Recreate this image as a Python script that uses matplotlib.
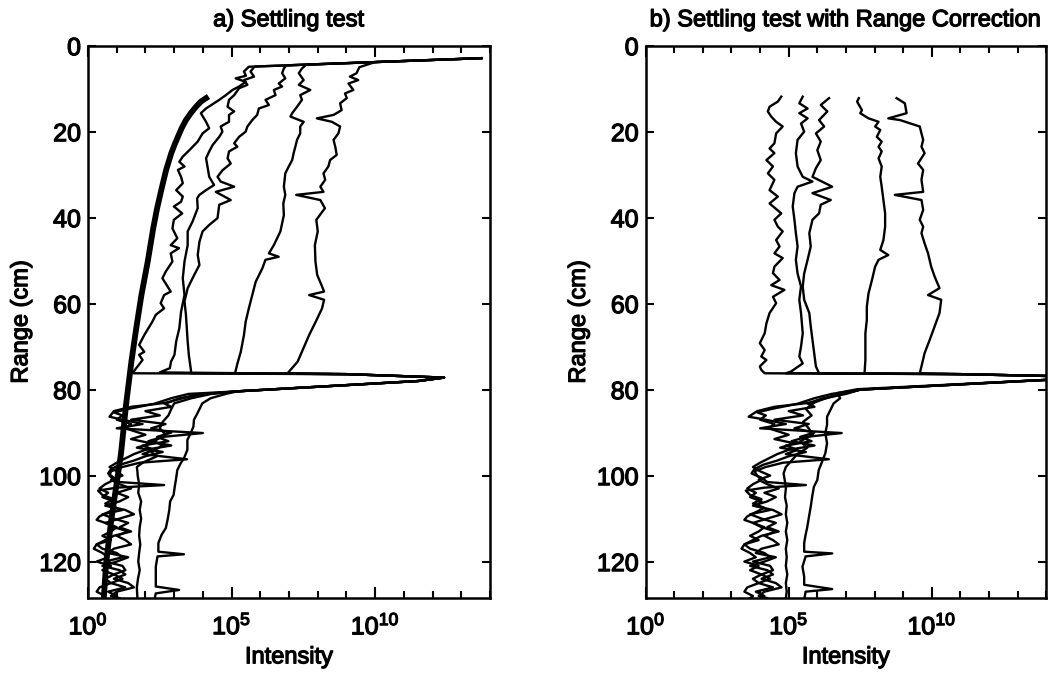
import numpy as np
import matplotlib
matplotlib.use("Agg")
import matplotlib.pyplot as plt
from matplotlib.ticker import NullFormatter
from matplotlib import patheffects as pe

plt.rcParams['font.family'] = ['Liberation Sans', 'DejaVu Sans']
plt.rcParams['mathtext.fontset'] = 'custom'
plt.rcParams['mathtext.rm'] = 'Liberation Sans'
plt.rcParams['mathtext.it'] = 'Liberation Sans:italic'
plt.rcParams['mathtext.bf'] = 'Liberation Sans:bold'
plt.rcParams['mathtext.default'] = 'regular'

# ---------------- data: (range cm, log10 intensity) ----------------
# panel a) Settling test
a_trace1 = [(2.9,13.7),(4.9,5.6),(6.0,5.43),(7.0,5.5),(7.6,5.14),(8.4,5.49),(9.5,5.26),(10.3,5.03),(11.5,4.8),(12.6,4.57),(14.6,4.11),(15.7,3.93),(17.7,4.11),(19.2,4.22),(20.4,3.99),(22.3,3.82),(24.3,3.53),(25.8,3.30),(27.0,3.18),(28.1,3.36),(28.9,3.13),(30.5,3.24),(32.0,3.30),(33.6,3.07),(35.1,3.30),(36.3,3.24),(37.4,2.99),(39.0,3.28),(40.5,2.99),(42.5,2.94),(44.8,3.11),(46.4,2.88),(47.1,3.17),(48.3,2.88),(50.2,2.94),(52.5,2.71),(54.1,2.59),(55.8,2.75),(57.2,2.88),(58.0,2.65),(59.9,2.53),(61.1,2.65),(62.6,2.36),(64.2,2.24),(67.3,1.96),(69.6,1.78),(71.2,1.96),(71.9,1.78),(73.1,1.90),(75.0,1.68),(76.2,1.55),
            (76.4,9.0),(77.2,12.4),(78.0,11.5),(80.4,5.2),
            (81.0,3.5),(82.0,2.9),(83.3,2.3),(84.5,1.4),(85.3,0.9),(86.0,1.2),(87.0,1.0),(88.0,1.5),(89.0,1.3),(90.5,2.0),(91.5,1.5),(92.5,2.2),(93.5,1.7),(94.5,2.6),(95.5,2.0),(96.5,1.6),(97.5,1.1),(98.5,0.8),(99.5,0.7),(100.5,0.9),(101.5,1.1),(102.2,2.65),(102.8,1.0),(103.5,0.35),(104.5,0.5),(105.5,0.9),(106.5,0.6),(107.5,1.0),(108.5,0.7),(109.5,0.4),(110.3,0.3),(111.0,0.6),(112.0,1.0),(113.0,0.8),(114.0,0.5),(115.0,0.8),(116.0,0.3),(117.0,0.2),(118.0,0.5),(119.0,0.7),(120.0,0.3),(121.0,0.8),(122.0,0.5),(123.0,0.9),(124.0,0.6),(125.0,0.8),(126.0,0.4),(127.0,0.3),(128.0,0.6),(128.5,0.5)]

a_trace2 = [(2.9,13.7),(4.85,5.8),(6.0,5.66),(7.2,5.78),(8.0,5.43),(9.1,5.55),(9.9,5.26),(11.5,5.09),(12.6,4.91),(14.2,4.86),(15.3,5.09),(16.1,4.91),(17.7,4.91),(18.8,4.62),(20.0,4.68),(21.2,4.57),(23.1,4.34),(24.6,4.22),(26.2,4.11),(28.1,4.16),(30.5,4.22),(32.4,4.39),(33.6,4.11),(34.7,3.88),(35.5,3.80),(37.8,3.82),(40.9,3.64),(43.2,3.47),(46.4,3.47),(50.2,3.36),(54.1,3.30),(58.0,3.36),(61.9,3.24),(65.7,3.18),(68.8,3.07),(71.9,3.01),(73.5,2.89),(75.0,2.85),(76.0,2.5),
            (76.4,9.0),(77.2,12.4),(78.0,11.5),(80.4,5.2),
            (81.2,3.8),(82.5,3.0),(83.2,2.65),(84.0,2.9),(85.0,2.0),(86.0,2.5),(87.0,1.5),(88.0,2.7),(89.0,2.2),(90.0,2.9),(91.0,2.4),(92.0,2.8),(93.0,1.9),(94.0,2.3),(95.0,1.9),(96.2,3.45),(97.0,1.8),(98.0,1.2),(99.0,0.8),(100.0,0.75),(101.0,0.9),(102.0,0.6),(103.0,0.4),(104.0,0.7),(105.0,0.5),(106.0,0.9),(107.0,0.7),(108.0,1.2),(109.0,0.5),(110.0,0.9),(111.0,1.4),(112.0,1.1),(113.0,1.5),(114.0,0.9),(115.0,0.6),(116.0,0.3),(117.0,0.5),(118.0,1.0),(119.0,1.2),(120.0,0.6),(121.0,1.2),(122.0,1.3),(123.0,0.9),(124.0,1.2),(125.0,0.8),(126.0,1.3),(127.0,0.7),(128.0,1.0),(128.5,0.9)]

a_trace3 = [(2.9,13.7),(4.57,6.9),(5.3,6.82),(6.4,6.76),(7.6,6.87),(8.8,6.64),(9.5,6.76),(10.3,6.47),(11.5,6.53),(12.6,6.18),(13.8,6.30),(14.6,5.95),(16.1,5.89),(17.3,5.72),(18.8,5.55),(20.0,5.49),(21.2,5.26),(22.7,5.09),(23.5,5.20),(24.6,4.91),(26.2,4.86),(27.4,4.97),(29.0,4.68),(30.5,4.51),(31.6,4.62),(32.8,5.09),(34.0,4.45),(35.9,4.97),(37.0,4.57),(40.1,4.51),(41.7,4.22),(43.2,3.99),(45.6,3.88),(48.7,3.82),(51.0,3.88),(53.3,3.70),(56.4,3.47),(59.5,3.36),(62.6,3.41),(65.7,3.44),(68.8,3.47),(71.9,3.51),(75.8,3.59),(76.2,3.6),
            (76.4,9.0),(77.2,12.4),(78.0,11.5),(80.4,5.2),
            (81.0,4.0),(82.0,3.2),(83.0,2.8),(84.0,1.5),(85.0,0.9),(86.3,0.75),(87.0,1.2),(88.0,1.9),(89.0,1.0),(90.1,4.0),(91.0,2.6),(92.0,2.1),(93.0,2.9),(94.0,2.0),(95.0,1.6),(96.0,1.3),(97.0,1.0),(98.0,0.75),(99.0,1.0),(100.0,1.2),(101.0,0.8),(102.0,1.1),(103.0,1.5),(104.0,1.0),(105.0,1.4),(106.0,1.1),(107.0,0.6),(108.0,1.3),(109.0,1.6),(110.0,1.1),(111.0,0.6),(112.0,0.9),(113.0,1.4),(114.0,1.0),(115.0,1.3),(116.0,1.5),(117.0,0.9),(118.0,0.7),(119.0,1.4),(120.0,1.0),(121.0,0.5),(122.0,1.1),(123.0,1.3),(124.0,0.9),(125.0,1.4),(126.0,1.6),(127.0,1.0),(128.0,0.8),(128.5,1.1)]

a_trace4 = [(2.9,13.7),(4.4,7.6),(5.3,7.45),(6.4,7.34),(8.0,7.51),(9.1,7.34),(10.3,7.74),(11.5,7.39),(12.6,7.45),(14.2,7.28),(15.7,7.11),(16.5,7.05),(17.7,7.51),(18.8,7.39),(20.4,7.39),(21.9,7.28),(23.5,7.22),(25.0,7.16),(26.6,7.11),(28.1,6.99),(29.7,6.87),(32.8,6.82),(34.7,6.87),(36.7,6.80),(39.4,6.82),(43.2,6.70),(46.4,6.47),(48.3,6.30),(49.1,6.64),(49.8,6.18),(51.8,6.07),(54.9,5.84),(58.0,5.72),(61.1,5.60),(64.2,5.49),(67.3,5.43),(71.2,5.32),(74.0,5.2),(76.2,5.12),
            (76.4,9.0),(77.2,12.4),(78.0,11.5),(80.4,5.2),
            (81.0,4.3),(82.0,3.6),(83.2,3.0),(84.5,2.9),(86.0,2.8),(87.5,2.6),(89.0,2.5),(90.5,2.7),(92.0,2.3),(93.0,2.6),(94.5,2.2),(95.5,2.4),(97.0,1.9),(98.0,1.7),(99.0,1.72),(100.0,1.73),(102.0,1.78),(104.0,1.75),(106.0,1.85),(108.0,1.80),(110.0,1.85),(112.0,1.80),(114.0,1.78),(116.0,1.82),(118.0,1.78),(120.0,1.75),(122.0,1.80),(124.0,1.74),(126.0,1.70),(128.5,1.72)]

a_trace5 = [(2.9,13.7),(3.8,10.0),(5.0,9.45),(6.4,9.35),(7.2,9.12),(8.0,9.41),(8.8,9.07),(10.3,9.24),(11.1,8.95),(12.2,9.01),(13.4,8.78),(15.0,8.83),(16.1,8.55),(16.9,7.97),(17.7,8.49),(18.8,8.78),(20.4,8.72),(21.9,8.55),(23.5,8.61),(25.4,8.66),(26.6,8.43),(28.1,8.37),(29.7,8.20),(31.2,8.26),(32.8,8.09),(34.0,8.20),(34.7,7.25),(35.9,8.09),(37.8,8.25),(40.5,7.95),(43.2,8.0),(46.4,7.9),(50.2,7.92),(53.3,7.98),(56.0,8.15),(57.2,8.22),(58.0,7.70),(59.1,8.22),(61.1,8.15),(64.2,7.93),(67.3,7.70),(70.4,7.50),(73.5,7.30),(75.8,7.0),(76.2,6.95),
            (76.4,9.0),(77.2,12.4),(78.0,11.5),(80.4,5.2),
            (81.0,4.8),(82.0,4.27),(83.2,3.98),(85.5,3.81),(87.0,3.69),(88.6,3.67),(90.1,3.58),(91.7,3.46),(94.0,3.46),(96.0,3.34),(97.1,3.23),(98.7,3.11),(101.0,3.06),(102.6,3.02),(104.5,2.98),(106.0,2.86),(108.0,2.83),(110.3,2.77),(112.2,2.71),(113.8,2.56),(115.7,2.45),(117.7,2.45),(118.3,3.34),(118.8,2.42),(121.2,2.36),(123.5,2.36),(125.8,2.36),(126.6,3.17),(127.4,2.36),(128.9,2.31)]

# thick reference curve of panel a
a_thick = [(12.2,4.11),(13.0,3.93),(14.2,3.76),(15.6,3.59),(17.3,3.41),(19.2,3.26),(21.2,3.13),(23.1,3.01),(25.0,2.90),(28.9,2.72),(33.6,2.55),(38.0,2.40),(42.5,2.27),(50.2,2.08),(58.0,1.86),(65.7,1.68),(73.5,1.51),(83.2,1.33),(94.8,1.15),(102.6,0.98),(110.3,0.81),(120.4,0.63),(128.5,0.55)]

# panel b) Settling test with Range Correction
b_trace1 = [(11.85,4.74),(13.0,4.62),(14.2,4.33),(15.3,4.27),(16.5,4.39),(17.7,4.56),(18.8,4.79),(20.4,4.56),(22.7,4.50),(23.9,4.33),(25.0,4.50),(26.6,4.22),(28.1,4.45),(29.7,4.27),(31.2,4.50),(33.6,4.33),(35.1,4.62),(36.7,4.33),(39.0,4.74),(40.5,4.50),(42.1,4.62),(43.2,4.79),(45.2,4.56),(46.7,4.68),(48.3,4.50),(49.4,4.79),(51.4,4.50),(52.9,4.45),(54.5,4.68),(55.7,4.39),(56.8,4.85),(58.4,4.45),(59.9,4.56),(62.2,4.33),(64.6,4.22),(66.9,4.16),(69.2,3.99),(70.8,4.16),(72.3,4.04),(73.1,4.22),(74.6,3.99),(75.4,4.04),(76.2,4.16),
            (76.4,11.0),(77.1,16.0),(77.9,13.5),(80.0,7.5),
            (81.0,6.5),(82.0,5.9),(83.3,5.3),(84.5,4.4),(85.3,3.9),(86.0,4.2),(87.0,4.0),(88.0,4.5),(89.0,4.3),(90.5,5.0),(91.5,4.5),(92.5,5.2),(93.5,4.7),(94.5,5.6),(95.5,5.0),(96.5,4.6),(97.5,4.1),(98.5,3.8),(99.5,3.7),(100.5,4.05),(101.5,4.25),(102.2,5.6),(102.8,4.15),(103.5,3.5),(104.5,3.65),(105.5,4.05),(106.5,3.75),(107.5,4.15),(108.5,3.85),(109.5,3.55),(110.3,3.45),(111.0,3.75),(112.0,4.15),(113.0,3.95),(114.0,3.65),(115.0,3.95),(116.0,3.45),(117.0,3.35),(118.0,3.65),(119.0,3.85),(120.0,3.45),(121.0,3.95),(122.0,3.65),(123.0,4.05),(124.0,3.75),(125.0,3.95),(126.0,3.55),(127.0,3.45),(128.0,3.75),(128.5,3.65)]

b_trace2 = [(11.85,5.49),(13.4,5.37),(14.6,5.66),(15.7,5.37),(16.9,5.66),(18.1,5.43),(20.0,5.54),(21.9,5.31),(25.0,5.25),(28.1,5.31),(30.5,5.49),(31.6,5.83),(32.8,5.31),(34.3,5.20),(37.4,5.14),(40.5,5.20),(43.6,5.25),(46.7,5.31),(49.8,5.25),(53.0,5.31),(56.0,5.43),(59.1,5.37),(62.2,5.43),(66.9,5.49),(70.0,5.43),(72.3,5.37),(73.9,5.49),(75.8,5.08),(76.2,4.9),
            (76.4,11.0),(77.1,16.0),(77.9,13.5),(80.0,7.5),
            (81.2,6.8),(82.5,6.0),(83.2,5.65),(84.0,5.9),(85.0,5.0),(86.0,5.5),(87.0,4.5),(88.0,5.7),(89.0,5.2),(90.0,5.9),(91.0,5.4),(92.0,5.8),(93.0,4.9),(94.0,5.3),(95.0,4.9),(96.2,6.4),(97.0,4.8),(98.0,4.2),(99.0,3.8),(100.0,3.9),(101.0,4.05),(102.0,3.75),(103.0,3.55),(104.0,3.85),(105.0,3.65),(106.0,4.05),(107.0,3.85),(108.0,4.35),(109.0,3.65),(110.0,4.05),(111.0,4.55),(112.0,4.25),(113.0,4.65),(114.0,4.05),(115.0,3.75),(116.0,3.45),(117.0,3.65),(118.0,4.15),(119.0,4.35),(120.0,3.75),(121.0,4.35),(122.0,4.45),(123.0,4.05),(124.0,4.35),(125.0,3.95),(126.0,4.45),(127.0,3.85),(128.0,4.15),(128.5,4.05)]

b_trace3 = [(12.2,6.41),(13.8,6.12),(15.3,6.35),(17.3,6.06),(18.8,6.24),(20.4,5.95),(22.3,6.12),(24.3,6.00),(26.6,6.12),(28.5,5.95),(30.5,5.83),(32.8,6.52),(34.3,5.83),(35.9,6.47),(37.0,6.12),(39.0,6.06),(40.5,5.83),(43.6,5.72),(46.7,5.77),(49.8,5.66),(53.0,5.54),(56.0,5.49),(59.1,5.54),(62.2,5.72),(65.3,5.77),(68.4,5.83),(71.5,5.89),(74.6,5.95),(76.2,6.06),
            (76.4,11.0),(77.1,16.0),(77.9,13.5),(80.0,7.5),
            (81.0,7.0),(82.0,6.2),(83.0,5.8),(84.0,4.5),(85.0,3.9),(86.3,3.6),(87.0,4.2),(88.0,4.9),(89.0,4.0),(90.1,6.85),(91.0,5.6),(92.0,5.1),(93.0,5.9),(94.0,5.0),(95.0,4.6),(96.0,4.3),(97.0,4.0),(98.0,3.75),(99.0,4.0),(100.0,4.35),(101.0,3.95),(102.0,4.25),(103.0,4.65),(104.0,4.15),(105.0,4.55),(106.0,4.25),(107.0,3.75),(108.0,4.45),(109.0,4.75),(110.0,4.25),(111.0,3.75),(112.0,4.05),(113.0,4.55),(114.0,4.15),(115.0,4.45),(116.0,4.65),(117.0,4.05),(118.0,3.85),(119.0,4.55),(120.0,4.15),(121.0,3.65),(122.0,4.25),(123.0,4.45),(124.0,4.05),(125.0,4.55),(126.0,4.75),(127.0,4.15),(128.0,3.95),(128.5,4.25)]

b_trace4 = [(12.2,7.45),(13.0,7.39),(15.0,7.56),(15.7,7.50),(16.9,7.79),(17.7,8.14),(18.8,8.02),(19.6,8.20),(21.2,8.08),(22.3,8.25),(23.5,8.14),(24.6,8.25),(26.2,8.14),(28.1,8.25),(30.5,8.20),(32.8,8.25),(35.9,8.31),(39.0,8.37),(42.1,8.37),(45.2,8.31),(47.5,8.20),(48.7,8.48),(49.8,8.14),(51.4,8.02),(54.5,7.91),(57.6,7.79),(60.7,7.73),(63.8,7.73),(66.9,7.68),(70.0,7.68),(73.1,7.68),(76.2,7.65),
            (76.4,11.0),(77.1,16.0),(77.9,13.5),(80.0,7.5),
            (81.5,6.5),(83.0,5.9),(84.5,5.6),(86.0,5.8),(87.5,5.5),(89.0,5.7),(90.5,5.85),(92.0,5.4),(93.5,5.65),(95.0,5.3),(96.5,5.1),(98.0,4.9),(99.5,4.82),(101.0,4.86),(103.0,4.9),(105.0,4.87),(107.0,4.93),(109.0,4.9),(111.0,4.95),(113.0,4.9),(115.0,4.95),(117.0,4.9),(119.0,4.93),(121.0,4.9),(123.0,4.95),(125.0,4.9),(127.0,4.93),(128.5,4.9)]

b_trace5 = [(12.2,8.77),(13.4,9.06),(15.7,9.12),(16.9,8.48),(17.3,8.89),(18.8,9.58),(20.4,9.64),(21.9,9.70),(23.5,9.64),(25.0,9.75),(27.4,9.52),(28.9,9.70),(31.2,9.64),(34.0,9.70),(34.7,8.71),(35.9,9.64),(38.2,9.70),(40.5,9.58),(42.1,9.70),(43.6,9.64),(46.0,9.75),(48.3,9.87),(51.4,9.98),(53.7,10.10),(56.4,10.27),(58.0,9.87),(59.1,10.33),(62.2,10.27),(65.3,10.10),(68.4,9.93),(71.5,9.75),(74.6,9.64),(76.2,9.58),
            (76.4,11.0),(77.1,16.0),(77.9,13.5),(79.9,7.4),
            (80.8,6.7),(82.0,6.8),(83.2,6.57),(84.7,6.46),(86.3,6.34),(88.2,6.34),(90.1,6.28),(92.5,6.34),(94.8,6.28),(96.7,6.17),(98.7,6.05),(101.0,6.0),(102.6,5.88),(104.9,5.82),(107.2,5.77),(109.5,5.71),(111.9,5.65),(113.8,5.59),(115.7,5.54),(117.7,5.54),(118.1,6.52),(118.8,5.59),(121.2,5.48),(123.5,5.54),(125.4,5.54),(126.4,6.52),(127.0,5.59),(128.9,5.54)]

x_tick_values = [1, 1e5, 1e10]
x_tick_labels = ['$10^{0}$', '$10^{5}$', '$10^{10}$']
y_tick_values = [0, 20, 40, 60, 80, 100, 120]
titles = ['a) Settling test', 'b) Settling test with Range Correction']

# ---------------- figure ----------------
fig = plt.figure(figsize=(10.63, 6.73), dpi=100)
ax_a = fig.add_axes([0.0828, 0.1119, 0.3782, 0.8202])
ax_b = fig.add_axes([0.6074, 0.1119, 0.3768, 0.8202])

FS = 17
heavy = [pe.withStroke(linewidth=0.9, foreground='black')]

def draw(ax, traces, lw=1.7):
    for tr in traces:
        arr = np.array(tr, dtype=float)
        ax.plot(np.power(10.0, arr[:, 1]), arr[:, 0], color='black', lw=lw,
                solid_joinstyle='round', clip_on=True)

def style(ax, title):
    ax.set_xscale('log')
    ax.set_xlim(1, 1e14)
    ax.set_ylim(128.4, 0)
    ax.set_xticks(x_tick_values)
    ax.set_xticklabels(x_tick_labels)
    ax.set_xticks([10.0 ** k for k in range(15)], minor=True)
    ax.xaxis.set_minor_formatter(NullFormatter())
    ax.set_yticks(y_tick_values)
    ax.tick_params(which='both', direction='in', top=True, right=True,
                   labelsize=18, width=1.5, color='black')
    ax.tick_params(axis='x', which='major', length=8, pad=11)
    ax.tick_params(axis='x', which='minor', length=5)
    ax.tick_params(axis='y', which='major', length=6, pad=5)
    for s in ax.spines.values():
        s.set_linewidth(1.8)
    xl = ax.set_xlabel('Intensity', fontsize=FS, labelpad=5)
    yl = ax.set_ylabel('Range (cm)', fontsize=FS, labelpad=5)
    t = ax.set_title(title, fontsize=FS, pad=14)
    for txt in [xl, yl, t] + ax.get_xticklabels() + ax.get_yticklabels():
        txt.set_path_effects(heavy)

draw(ax_a, [a_trace1, a_trace2, a_trace3, a_trace4, a_trace5])
draw(ax_a, [a_thick], lw=4.2)
draw(ax_b, [b_trace1, b_trace2, b_trace3, b_trace4, b_trace5])

style(ax_a, titles[0])
style(ax_b, titles[1])

fig.savefig('out.png', dpi=100)
